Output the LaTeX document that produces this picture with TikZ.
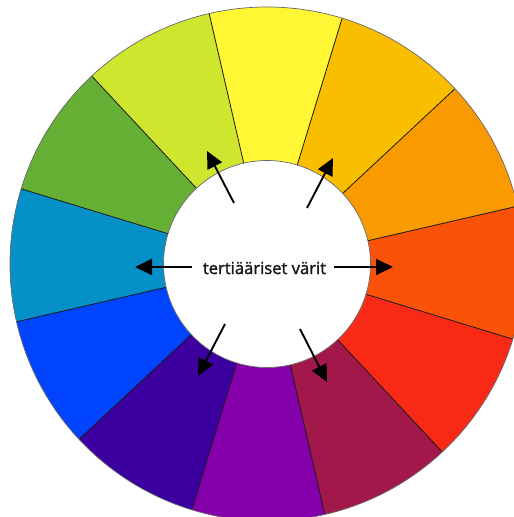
\documentclass[tikz,border=0pt]{standalone}
\usepackage{fontspec}
\setmainfont{Open Sans}
\newfontfamily\labelfont[FakeBold=1.6]{Open Sans}
\usetikzlibrary{arrows.meta}
\definecolor{cY}{RGB}{255,247,52}
\definecolor{cYG}{RGB}{207,230,46}
\definecolor{cG}{RGB}{102,175,53}
\definecolor{cT}{RGB}{5,144,200}
\definecolor{cB}{RGB}{0,68,255}
\definecolor{cBV}{RGB}{61,0,160}
\definecolor{cV}{RGB}{132,0,171}
\definecolor{cRV}{RGB}{163,24,74}
\definecolor{cR}{RGB}{249,42,21}
\definecolor{cRO}{RGB}{250,82,8}
\definecolor{cO}{RGB}{249,155,0}
\definecolor{cYO}{RGB}{249,190,0}
\tikzset{
  divider/.style={draw=black!90, line width=0.8pt},
  rim/.style={draw=black!60, line width=0.7pt},
  pointer/.style={-{Triangle[length=17pt,width=16pt]}, line width=1.9pt, black},
  label/.style={font=\labelfont\fontsize{16.6}{20}\selectfont, text=black!90, inner sep=0pt}
}
\begin{document}
\begin{tikzpicture}[x=1pt,y=1pt]
\useasboundingbox (0,0) rectangle (514,517);
\clip (0,0) rectangle (514,517);
\begin{scope}[shift={(267,253)}]
  \foreach \a/\c in {73/cY,103/cYG,133/cG,163/cT,193/cB,223/cBV,253/cV,283/cRV,313/cR,343/cRO,13/cO,43/cYO}{
    \fill[\c] (\a:257) arc[start angle=\a, end angle=\a+30, radius=257]
      -- ({\a+30}:103.5) arc[start angle=\a+30, end angle=\a, radius=103.5] -- cycle;
  }
  \foreach \a in {13,43,...,343}{
    \draw[divider] (\a:103.5) -- (\a:257);
  }
  \draw[rim] (0,0) circle[radius=257];
  \filldraw[fill=white, draw=black!60, line width=0.7pt] (0,0) circle[radius=103.5];
\end{scope}
\node[label] (t) at (264.5,249) {tertiääriset värit};
\coordinate (ulS) at (234,314); \coordinate (ulE) at (207,366);
\coordinate (urS) at (307,309); \coordinate (urE) at (333,359);
\coordinate (lS) at (192,250); \coordinate (lE) at (135,250);
\coordinate (rS) at (334,250); \coordinate (rE) at (393,250);
\coordinate (llS) at (225,193); \coordinate (llE) at (198,141);
\coordinate (lrS) at (300,188); \coordinate (lrE) at (327,135);
\draw[pointer] (ulS) -- (ulE);
\draw[pointer] (urS) -- (urE);
\draw[pointer] (lS) -- (lE);
\draw[pointer] (rS) -- (rE);
\draw[pointer] (llS) -- (llE);
\draw[pointer] (lrS) -- (lrE);
\end{tikzpicture}
\end{document}
